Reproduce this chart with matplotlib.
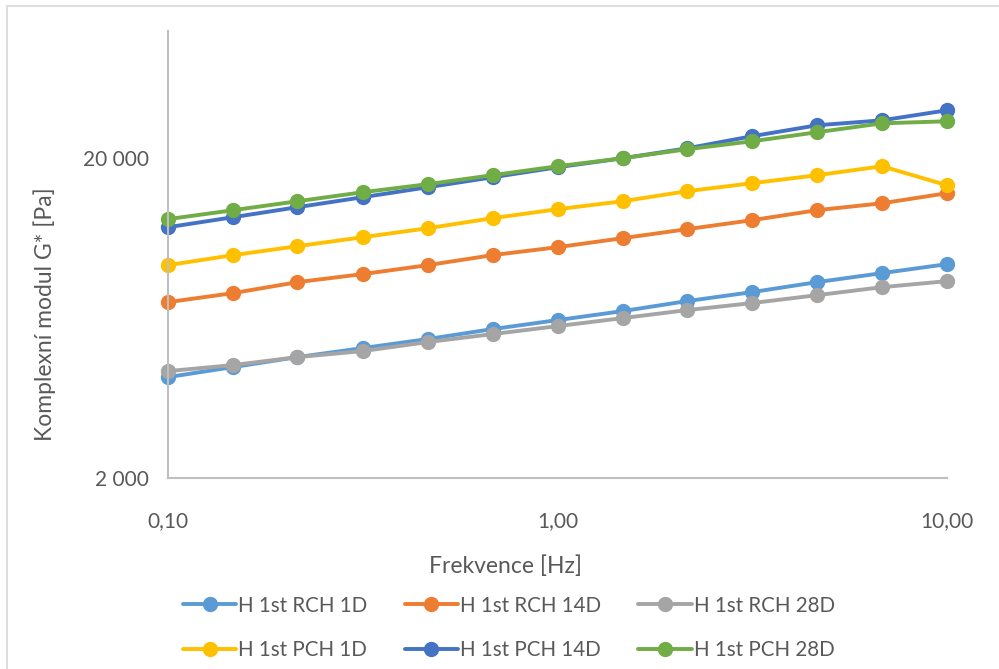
import numpy as np
import matplotlib.pyplot as plt
from matplotlib.patches import Rectangle
from matplotlib.ticker import FixedLocator, NullLocator

plt.rcParams['font.family'] = ['Lato', 'DejaVu Sans']

# frequency sweep, 6 points per decade
freq = [0.1, 0.147, 0.215, 0.316, 0.464, 0.681, 1.0, 1.47, 2.15, 3.16, 4.64, 6.81, 10.0]

rch_1d = [4136, 4446, 4777, 5097, 5439, 5845, 6235, 6652, 7149, 7628, 8196, 8745, 9329]
rch_14d = [7096, 7573, 8196, 8682, 9261, 9954, 10540, 11247, 12000, 12804, 13758, 14462, 15548]
rch_28d = [4318, 4510, 4777, 4988, 5322, 5637, 5970, 6325, 6700, 7048, 7462, 7904, 8254]
pch_1d = [9261, 9954, 10617, 11325, 12081, 12988, 13854, 14674, 15774, 16708, 17700, 18880, 16467]
pch_14d = [12170, 13082, 14060, 15105, 16228, 17437, 18740, 20000, 21480, 23440, 25360, 26280, 28250]
pch_28d = [12900, 13758, 14674, 15657, 16590, 17700, 18880, 20000, 21340, 22600, 24120, 25720, 26100]

labels = ['H 1st RCH 1D', 'H 1st RCH 14D', 'H 1st RCH 28D',
          'H 1st PCH 1D', 'H 1st PCH 14D', 'H 1st PCH 28D']
series = [rch_1d, rch_14d, rch_28d, pch_1d, pch_14d, pch_28d]
colors = ['#5B9BD5', '#ED7D31', '#A5A5A5', '#FFC000', '#4472C4', '#70AD47']

W, H = 999, 669
fig = plt.figure(figsize=(W / 100, H / 100), dpi=100)

# chart frame
fig.patches.append(Rectangle((7 / W, -0.1), 1.2, 1.1 - 6 / H, transform=fig.transFigure,
                             fill=False, edgecolor='#D9D9D9', linewidth=1.2))

ax = fig.add_axes([168 / W, 1 - 478 / H, 779 / W, 447 / H])
lines = []
for y, lab, c in zip(series, labels, colors):
    ln, = ax.plot(freq, y, color=c, linewidth=2.8, marker='o', markersize=10, label=lab,
                  solid_capstyle='round', clip_on=False)
    lines.append(ln)

ax.set_xscale('log')
ax.set_yscale('log')
ax.set_xlim(0.1, 10)
ax.set_ylim(2000, 50000)

ax.xaxis.set_major_locator(FixedLocator([0.1, 1, 10]))
ax.xaxis.set_minor_locator(NullLocator())
ax.set_xticklabels(['0,10', '1,00', '10,00'])
ax.yaxis.set_major_locator(FixedLocator([2000, 20000]))
ax.yaxis.set_minor_locator(NullLocator())
ax.set_yticklabels(['2 000', '20 000'])

ax.tick_params(length=0, labelsize=15, labelcolor='#595959', pad=14)
ax.tick_params(axis='x', pad=24)
for s in ['top', 'right']:
    ax.spines[s].set_visible(False)
for s in ['left', 'bottom']:
    ax.spines[s].set_color('#BFBFBF')
    ax.spines[s].set_linewidth(1.5)

fig.text(45 / W, 1 - 314 / H, 'Komplexní modul G* [Pa]', rotation=90,
         ha='center', va='center', fontsize=16.5, color='#595959')
fig.text(505 / W, 1 - 566 / H, 'Frekvence [Hz]', ha='center', va='center',
         fontsize=16.5, color='#595959')

# legend filled row by row (matplotlib fills columns first)
order = [0, 3, 1, 4, 2, 5]
fig.legend([lines[i] for i in order], [labels[i] for i in order],
           loc='center', bbox_to_anchor=(509 / W, 1 - 628 / H), ncol=3, frameon=False,
           fontsize=14.8, labelcolor='#595959', handlelength=2.6, handletextpad=0.1,
           columnspacing=1.8, labelspacing=1.2)

fig.savefig('out.png', dpi=100)
